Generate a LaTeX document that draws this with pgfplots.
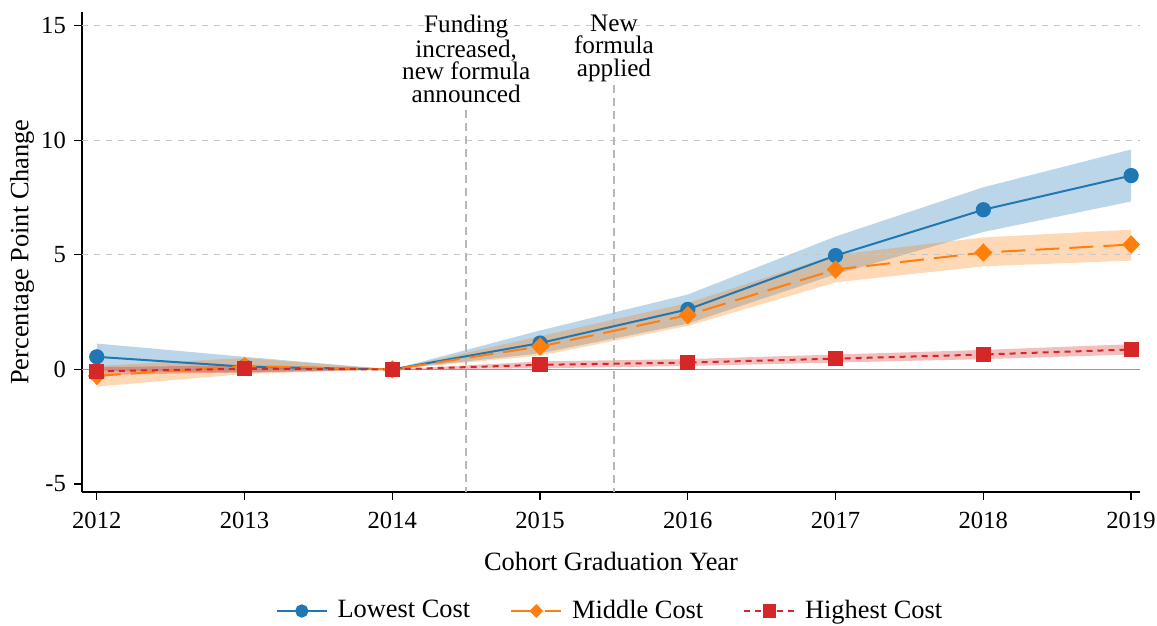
\documentclass[border=0pt]{standalone}
\usepackage{fontspec}
\setmainfont{Liberation Serif}
\usepackage{pgfplots}
\pgfplotsset{compat=1.18}
\usepackage{pgfplotstable}
\usepgfplotslibrary{fillbetween}
\definecolor{cblue}{HTML}{1F77B4}
\definecolor{corange}{HTML}{FF7F0E}
\definecolor{cred}{HTML}{D62728}
\pgfplotstableread{
year y lo hi
2012 0.55 -0.05 1.13
2013 0.12 -0.15 0.55
2014 0 0 0
2015 1.15 0.70 1.70
2016 2.62 2.00 3.27
2017 4.97 4.15 5.80
2018 6.97 6.00 7.95
2019 8.46 7.33 9.60
}\lowtab
\pgfplotstableread{
year y lo hi
2012 -0.28 -0.75 0.15
2013 0.15 -0.20 0.50
2014 0 0 0
2015 1.00 0.60 1.45
2016 2.37 1.90 2.90
2017 4.36 3.80 5.00
2018 5.10 4.50 5.76
2019 5.45 4.75 6.10
}\midtab
\pgfplotstableread{
year y lo hi
2012 -0.08 -0.25 0.10
2013 0.03 -0.12 0.18
2014 0 0 0
2015 0.20 0.05 0.35
2016 0.30 0.15 0.45
2017 0.47 0.30 0.65
2018 0.65 0.45 0.85
2019 0.87 0.65 1.10
}\hightab
\newcommand{\fs}{\fontsize{13.2}{15}\selectfont}
\newcommand{\ft}{\fontsize{12.3}{14}\selectfont}
\begin{document}
\fs
\begin{tikzpicture}
\begin{axis}[
  scale only axis, width=529pt, height=240pt,
  xmin=2011.9, xmax=2019.06, ymin=-5.35, ymax=15.6,
  axis x line*=bottom, axis y line*=left,
  axis line style={line width=0.7pt},
  xtick={2012,...,2019},
  xticklabels={2012,2013,2014,2015,2016,2017,2018,2019},
  ytick={-5,0,5,10,15},
  yticklabels={-5,0,5,10,15},
  tick align=outside, major tick length=4pt,
  tick style={black, line width=0.6pt},
  ticklabel style={font=\ft},
  yticklabel style={xshift=0.5pt},
  xticklabel style={yshift=-1.5pt},
  xlabel={Cohort Graduation Year},
  ylabel={Percentage Point Change},
  label style={font=\fs},
  xlabel style={at={(axis description cs:0.5,-0.144)}, anchor=center},
  ylabel style={at={(axis description cs:-0.0567,0.5)}, anchor=center},
  clip=false,
  legend columns=3,
  legend style={draw=none, at={(rel axis cs:0.5,0)}, anchor=center, yshift=-59.5pt,
    font=\fs,
    /tikz/every even column/.append style={column sep=18pt}},
  legend cell align=left,
  legend image code/.code={
    \draw[mark repeat=2, mark phase=2, #1, mark size=2.8pt] plot coordinates {(0cm,0cm) (0.44cm,0cm) (0.88cm,0cm)};
    \path (0.98cm,0cm);
  },
]
\coordinate (ll) at (rel axis cs:0,0);
\coordinate (ur) at (rel axis cs:1,1);
% grid
\draw[dash pattern=on 3pt off 3pt, black!22, line width=0.6pt] (axis cs:2011.9,5) -- (axis cs:2019.06,5);
\draw[dash pattern=on 3pt off 3pt, black!22, line width=0.6pt] (axis cs:2011.9,10) -- (axis cs:2019.06,10);
\draw[dash pattern=on 3pt off 3pt, black!22, line width=0.6pt] (axis cs:2011.9,15) -- (axis cs:2019.06,15);
\draw[black!40, line width=0.8pt] (axis cs:2011.9,0) -- (axis cs:2019.06,0);
\draw[dash pattern=on 4pt off 2.5pt, black!28, line width=0.9pt] (axis cs:2014.5,11.34) -- (axis cs:2014.5,-5.35);
\draw[dash pattern=on 4pt off 2.5pt, black!28, line width=0.9pt] (axis cs:2015.5,12.43) -- (axis cs:2015.5,-5.35);
\node[anchor=north, align=center, inner sep=0pt, font=\fontsize{12.6}{11.4}\selectfont] at (axis cs:2014.5,15.5) {Funding\\increased,\\new formula\\announced};
\node[anchor=north, align=center, inner sep=0pt, font=\fontsize{12.6}{11.4}\selectfont] at (axis cs:2015.5,15.5) {New\\formula\\applied};
% bands
\addplot[name path=bh, draw=none, forget plot] table[x=year,y=hi]{\lowtab};
\addplot[name path=bl, draw=none, forget plot] table[x=year,y=lo]{\lowtab};
\addplot[cblue, fill opacity=0.3, draw=none, forget plot] fill between[of=bh and bl];
\addplot[name path=mh, draw=none, forget plot] table[x=year,y=hi]{\midtab};
\addplot[name path=ml, draw=none, forget plot] table[x=year,y=lo]{\midtab};
\addplot[corange, fill opacity=0.3, draw=none, forget plot] fill between[of=mh and ml];
\addplot[name path=hh, draw=none, forget plot] table[x=year,y=hi]{\hightab};
\addplot[name path=hl, draw=none, forget plot] table[x=year,y=lo]{\hightab};
\addplot[cred, fill opacity=0.3, draw=none, forget plot] fill between[of=hh and hl];
% lines
\addplot[cblue, line width=1pt, mark=*, mark size=3.3pt, mark options={solid, fill=cblue, draw=cblue}] table[x=year,y=y]{\lowtab};
\addlegendentry{Lowest Cost}
\addplot[corange, line width=1pt, dash pattern=on 12pt off 5pt, mark=diamond*, mark size=3.9pt, mark options={solid, xscale=1.3, fill=corange, draw=corange}] table[x=year,y=y]{\midtab};
\addlegendentry{Middle Cost}
\addplot[cred, line width=1pt, dash pattern=on 3pt off 2.5pt, mark=square*, mark size=3.3pt, mark options={solid, fill=cred, draw=cred}] table[x=year,y=y]{\hightab};
\addlegendentry{Highest Cost}
\end{axis}
\pgfresetboundingbox
\path ([shift={(-41pt,-67pt)}]ll) rectangle ([shift={(8.5pt,6pt)}]ur);
\end{tikzpicture}
\end{document}
